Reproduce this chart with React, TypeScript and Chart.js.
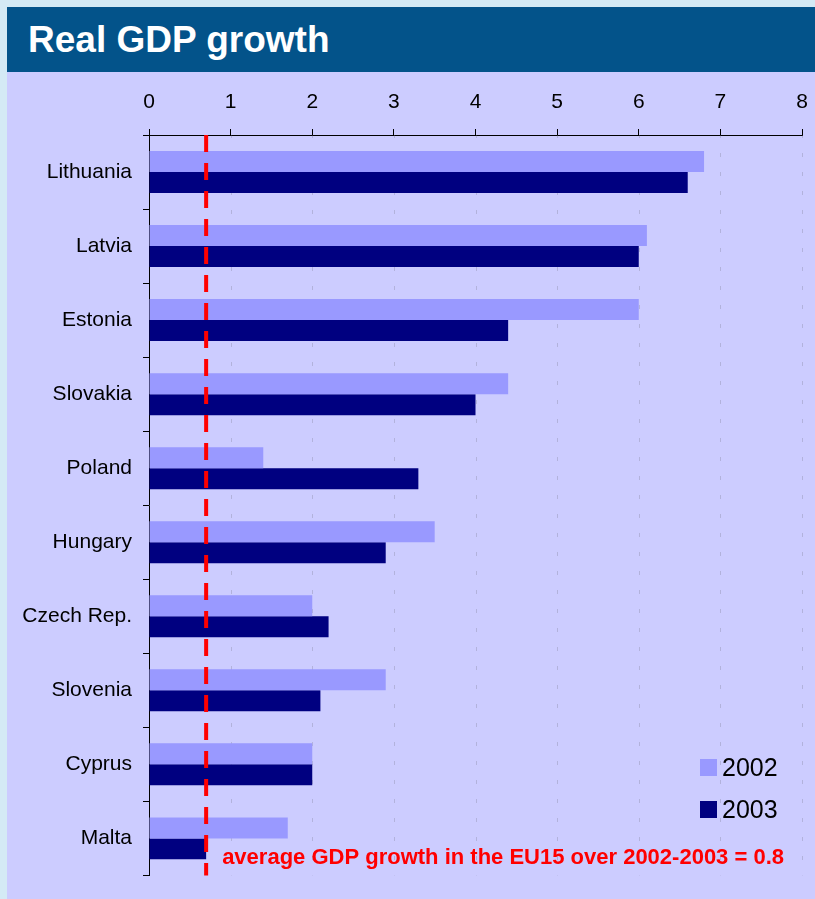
import React, { useEffect, useRef } from "react";
import { Chart, registerables } from "chart.js";

Chart.register(...registerables);

const TITLE = "Real GDP growth";
const countries = [
  "Lithuania",
  "Latvia",
  "Estonia",
  "Slovakia",
  "Poland",
  "Hungary",
  "Czech Rep.",
  "Slovenia",
  "Cyprus",
  "Malta",
];
const seriesLabels = ["2002", "2003"];
const growth2002 = [6.8, 6.1, 6.0, 4.4, 1.4, 3.5, 2.0, 2.9, 2.0, 1.7];
const growth2003 = [6.6, 6.0, 4.4, 4.0, 3.3, 2.9, 2.2, 2.1, 2.0, 0.7];
const seriesColors = ["#9999FF", "#000080"];
const xMin = 0;
const xMax = 8;
const xStep = 1;
const EU15_AVG_LINE = 0.7;
const EU15_NOTE = "average GDP growth in the EU15 over 2002-2003 = 0.8";

const FONT = "'Liberation Sans', Arial, Helvetica, sans-serif";

const overlayPlugin = {
  id: "overlayPlugin",
  beforeDatasetsDraw(chart: any) {
    const { ctx, chartArea } = chart;
    const xs = chart.scales.x;
    ctx.save();
    ctx.strokeStyle = "rgba(110,110,130,0.28)";
    ctx.lineWidth = 1;
    ctx.setLineDash([4, 15]);
    ctx.lineDashOffset = -18;
    for (let v = xMin + xStep; v <= xMax; v += xStep) {
      const px = Math.round(xs.getPixelForValue(v)) + 0.5;
      ctx.beginPath();
      ctx.moveTo(px, chartArea.top);
      ctx.lineTo(px, chartArea.bottom);
      ctx.stroke();
    }
    ctx.restore();
  },
  afterDatasetsDraw(chart: any) {
    const { ctx, chartArea } = chart;
    const xs = chart.scales.x;
    const px = xs.getPixelForValue(EU15_AVG_LINE);
    ctx.save();
    ctx.strokeStyle = "#FF0000";
    ctx.lineWidth = 4;
    ctx.setLineDash([17, 11]);
    ctx.beginPath();
    ctx.moveTo(px, chartArea.top);
    ctx.lineTo(px, chartArea.bottom);
    ctx.stroke();
    ctx.setLineDash([]);
    ctx.fillStyle = "#FF0000";
    ctx.font = `bold 22px ${FONT}`;
    ctx.textBaseline = "alphabetic";
    ctx.textAlign = "left";
    ctx.fillText(EU15_NOTE, px + 16, chartArea.bottom - 11);
    ctx.restore();
  },
};

function GdpChart() {
  const ref = useRef<HTMLCanvasElement | null>(null);
  useEffect(() => {
    if (!ref.current) return;
    const chart = new Chart(ref.current, {
      type: "bar",
      data: {
        labels: countries,
        datasets: [
          {
            label: seriesLabels[0],
            data: growth2002,
            backgroundColor: seriesColors[0],
            borderWidth: 0,
            categoryPercentage: 0.567,
            barPercentage: 1,
          },
          {
            label: seriesLabels[1],
            data: growth2003,
            backgroundColor: seriesColors[1],
            borderWidth: 0,
            categoryPercentage: 0.567,
            barPercentage: 1,
          },
        ],
      },
      options: {
        indexAxis: "y",
        responsive: false,
        animation: false,
        layout: { padding: { left: 0, top: 0, right: 13, bottom: 21 } },
        plugins: {
          legend: { display: false },
          tooltip: { enabled: false },
        },
        scales: {
          x: {
            position: "top",
            min: xMin,
            max: xMax,
            ticks: {
              stepSize: xStep,
              color: "#000",
              font: { family: FONT, size: 21 },
              padding: 14,
              maxRotation: 0,
            },
            grid: {
              drawOnChartArea: false,
              drawTicks: true,
              tickLength: 6,
              tickColor: "#000",
              tickWidth: 1,
            },
            border: { display: true, color: "#000", width: 1 },
            afterFit(scale: any) {
              scale.height = 63;
              scale.paddingLeft = 0;
              scale.paddingRight = 6;
            },
          },
          y: {
            offset: true,
            ticks: {
              color: "#000",
              font: { family: FONT, size: 21 },
              padding: 11,
            },
            grid: {
              offset: true,
              drawOnChartArea: false,
              drawTicks: true,
              tickLength: 6,
              tickColor: "#000",
              tickWidth: 1,
            },
            border: { display: true, color: "#000", width: 1 },
            afterFit(scale: any) {
              scale.width = 142;
            },
          },
        },
      },
      plugins: [overlayPlugin],
    } as any);
    return () => chart.destroy();
  }, []);
  return (
    <canvas
      ref={ref}
      width={808}
      height={827}
      style={{ position: "absolute", left: 7, top: 72, width: 808, height: 827 }}
    />
  );
}

export default function App() {
  return (
    <div
      style={{
        position: "absolute",
        left: 0,
        top: 0,
        width: 815,
        height: 899,
        background: "#D4EAF5",
        overflow: "hidden",
        fontFamily: FONT,
      }}
    >
      <div
        style={{
          position: "absolute",
          left: 7,
          top: 7,
          width: 808,
          height: 892,
          background: "#CCCCFF",
        }}
      />
      <div
        style={{
          position: "absolute",
          left: 7,
          top: 7,
          width: 808,
          height: 65,
          background: "#03538A",
          color: "#FFFFFF",
          fontWeight: "bold",
          fontSize: 37,
          lineHeight: "65px",
          paddingLeft: 21,
          boxSizing: "border-box",
          whiteSpace: "nowrap",
        }}
      >
        {TITLE}
      </div>
      <GdpChart />
      {seriesLabels.map((lab, i) => (
        <div
          key={lab}
          style={{
            position: "absolute",
            left: 700,
            top: 753 + i * 42,
            height: 28,
            display: "flex",
            alignItems: "center",
            whiteSpace: "nowrap",
          }}
        >
          <span
            style={{
              display: "inline-block",
              width: 17,
              height: 17,
              background: seriesColors[i],
              marginRight: 5,
            }}
          />
          <span style={{ fontSize: 25, color: "#000", lineHeight: "28px" }}>{lab}</span>
        </div>
      ))}
    </div>
  );
}
